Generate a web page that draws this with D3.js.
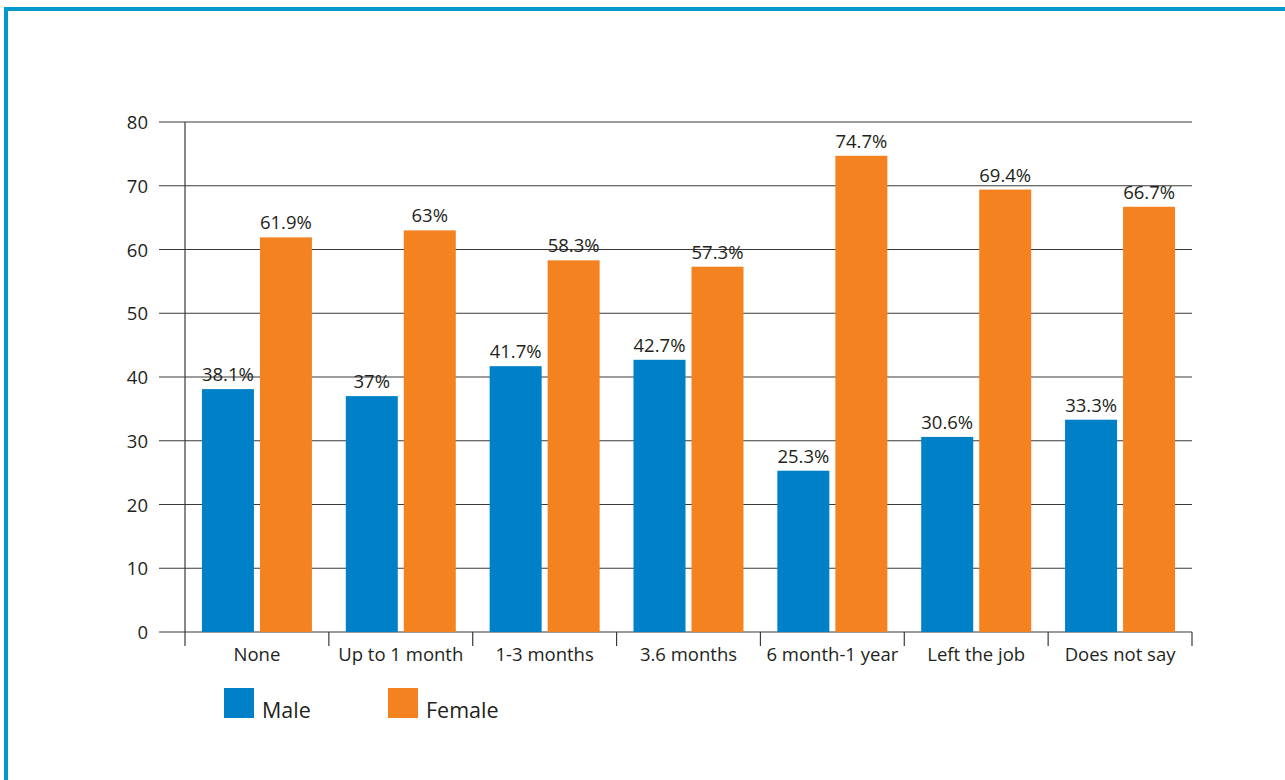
<!DOCTYPE html>
<html>
<head>
<meta charset="utf-8">
<script src="https://cdn.jsdelivr.net/npm/d3@7"></script>
<style>
  body { margin: 0; background: #fff; }
  text { font-family: "Open Sans", "Noto Sans", sans-serif; fill: #231f20; }
</style>
</head>
<body>
<script>
const width = 1285;
const height = 780;

const categories = ['None', 'Up to 1 month', '1-3 months', '3.6 months', '6 month-1 year', 'Left the job', 'Does not say'];
const male = [38.1, 37, 41.7, 42.7, 25.3, 30.6, 33.3];
const female = [61.9, 63, 58.3, 57.3, 74.7, 69.4, 66.7];
const maleLabels = ['38.1%', '37%', '41.7%', '42.7%', '25.3%', '30.6%', '33.3%'];
const femaleLabels = ['61.9%', '63%', '58.3%', '57.3%', '74.7%', '69.4%', '66.7%'];
const yTicks = [0, 10, 20, 30, 40, 50, 60, 70, 80];

const colors = { Male: '#0080c6', Female: '#f58220' };

const svg = d3.select('body').append('svg')
    .attr('width', width)
    .attr('height', height);

// frame (top and left edges)
svg.append('rect').attr('x', 4).attr('y', 7).attr('width', width - 4).attr('height', 4).attr('fill', '#0099cc');
svg.append('rect').attr('x', 4).attr('y', 7).attr('width', 4).attr('height', height - 7).attr('fill', '#0099cc');

const plotLeft = 185, plotRight = 1192, plotTop = 122, plotBottom = 632;

const x = d3.scaleBand().domain(categories).range([plotLeft, plotRight]);
const y = d3.scaleLinear().domain([0, 80]).range([plotBottom, plotTop]);

// gridlines
svg.append('g').selectAll('line')
    .data(yTicks)
    .enter().append('line')
    .attr('x1', 159).attr('x2', plotRight)
    .attr('y1', d => y(d)).attr('y2', d => y(d))
    .attr('stroke', '#3a3a3a').attr('stroke-width', 1.2);

// y labels
svg.append('g').selectAll('text')
    .data(yTicks)
    .enter().append('text')
    .attr('x', 148).attr('y', d => y(d) + 7)
    .attr('text-anchor', 'end')
    .style('font-size', '18.5px')
    .text(d => d);

// y axis line
svg.append('line').attr('x1', plotLeft).attr('x2', plotLeft).attr('y1', plotTop).attr('y2', plotBottom + 14)
    .attr('stroke', '#3a3a3a').attr('stroke-width', 1.2);

// x ticks at category boundaries
const bounds = categories.map(c => x(c) + x.bandwidth());
svg.append('g').selectAll('line')
    .data(bounds)
    .enter().append('line')
    .attr('x1', d => d).attr('x2', d => d)
    .attr('y1', plotBottom).attr('y2', plotBottom + 14)
    .attr('stroke', '#3a3a3a').attr('stroke-width', 1.2);

const barW = 52, gap = 6;
const series = [
    { name: 'Male', values: male, labels: maleLabels, offset: -(barW + gap / 2) },
    { name: 'Female', values: female, labels: femaleLabels, offset: gap / 2 }
];

series.forEach(s => {
    const g = svg.append('g');
    g.selectAll('rect')
        .data(categories)
        .enter().append('rect')
        .attr('x', (c) => x(c) + x.bandwidth() / 2 + s.offset)
        .attr('y', (c, i) => y(s.values[i]))
        .attr('width', barW)
        .attr('height', (c, i) => plotBottom - y(s.values[i]))
        .attr('fill', colors[s.name]);
    g.selectAll('text')
        .data(categories)
        .enter().append('text')
        .attr('x', (c) => x(c) + x.bandwidth() / 2 + s.offset + barW / 2)
        .attr('y', (c, i) => y(s.values[i]) - 8)
        .attr('text-anchor', 'middle')
        .style('font-size', '18.5px')
        .text((c, i) => s.labels[i]);
});

// category labels
svg.append('g').selectAll('text')
    .data(categories)
    .enter().append('text')
    .attr('x', c => x(c) + x.bandwidth() / 2)
    .attr('y', 661)
    .attr('text-anchor', 'middle')
    .style('font-size', '18.5px')
    .text(c => c);

// legend
const legend = [{ name: 'Male', x: 224 }, { name: 'Female', x: 388 }];
legend.forEach(l => {
    svg.append('rect').attr('x', l.x).attr('y', 688).attr('width', 30).attr('height', 30).attr('fill', colors[l.name]);
    svg.append('text').attr('x', l.x + 38).attr('y', 718).style('font-size', '21.5px').text(l.name);
});
</script>
</body>
</html>
